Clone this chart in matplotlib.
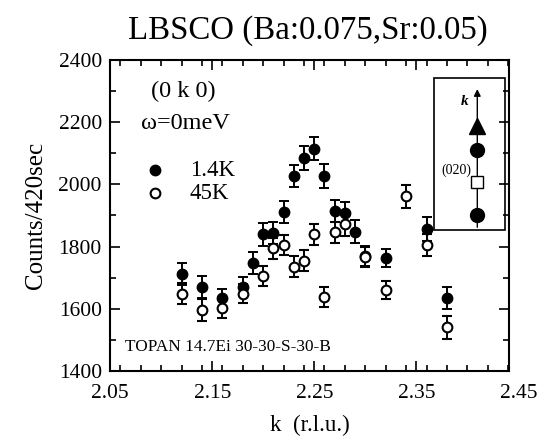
import matplotlib
matplotlib.use("Agg")
import matplotlib.pyplot as plt
from matplotlib.ticker import MultipleLocator, FixedLocator

plt.rcParams['font.family'] = ['Liberation Serif', 'DejaVu Serif']

# 1.4K data (filled)
k_low = [2.12, 2.14, 2.16, 2.18, 2.19, 2.20, 2.21, 2.22, 2.23, 2.24, 2.25,
         2.26, 2.27, 2.28, 2.29, 2.30, 2.32, 2.36, 2.38]
c_low = [1712, 1669, 1634, 1671, 1747, 1839, 1843, 1911, 2026, 2085, 2115,
         2026, 1914, 1908, 1848, 1771, 1763, 1857, 1634]
e_low = [34, 35, 30, 30, 36, 36, 36, 36, 36, 38, 38,
         38, 36, 36, 38, 32, 30, 38, 36]

# 45K data (open)
k_high = [2.12, 2.14, 2.16, 2.18, 2.20, 2.21, 2.22, 2.23, 2.24, 2.25,
          2.26, 2.27, 2.28, 2.30, 2.32, 2.34, 2.36, 2.38]
c_high = [1649, 1596, 1604, 1649, 1706, 1795, 1805, 1735, 1755, 1839,
          1637, 1846, 1871, 1765, 1660, 1961, 1805, 1540]
e_high = [34, 35, 34, 30, 32, 34, 32, 34, 34, 34,
          32, 34, 36, 32, 30, 38, 36, 36]

x_ticks = [2.05, 2.15, 2.25, 2.35]

fig = plt.figure(figsize=(5.4, 4.37), dpi=100)
ax = fig.add_axes([0.204, 0.151, 0.739, 0.712])

ax.errorbar(k_low, c_low, yerr=e_low, fmt='o', color='black', ms=7.5,
            capsize=3.5, elinewidth=1.4, capthick=1.4, zorder=3)
ax.errorbar(k_high, c_high, yerr=e_high, fmt='o', color='black', mfc='white',
            mew=1.5, ms=7, capsize=3.5, elinewidth=1.4, capthick=1.4, zorder=4)

ax.set_xlim(2.05, 2.441)
ax.set_ylim(1400, 2400)
ax.xaxis.set_major_locator(FixedLocator(x_ticks))
ax.xaxis.set_minor_locator(MultipleLocator(0.02))
ax.yaxis.set_major_locator(MultipleLocator(200))
ax.yaxis.set_minor_locator(MultipleLocator(100))
ax.set_xticklabels(['%.2f' % t for t in x_ticks])
ax.tick_params(which='both', direction='in', top=True, right=True,
               labelsize=15.5, width=1.2)
ax.tick_params(which='major', length=7, pad=6)
ax.tick_params(axis='x', which='major', pad=9)
ax.tick_params(which='minor', length=4)
# the last label sits just past the right edge of the frame
ax.annotate('2.45', xy=(2.45, 0), xycoords=ax.get_xaxis_transform(),
            xytext=(0, -9), textcoords='offset points',
            ha='center', va='top', fontsize=15.5, annotation_clip=False)
for s in ax.spines.values():
    s.set_linewidth(1.5)

ax.set_xlabel('k  (r.l.u.)', fontsize=16.5, labelpad=9)
ax.set_ylabel('Counts/420sec', fontsize=18, labelpad=8)
fig.suptitle('LBSCO (Ba:0.075,Sr:0.05)', fontsize=23.7, x=0.57, y=0.965)

# annotations
ax.text(0.183, 0.898, '(0 k 0)', transform=ax.transAxes, ha='center', va='center', fontsize=17.5)
ax.text(0.188, 0.797, 'ω=0meV', transform=ax.transAxes, ha='center', va='center', fontsize=17.5)
ax.plot([0.113], [0.646], 'o', color='black', ms=7.5, transform=ax.transAxes)
ax.plot([0.113], [0.572], 'o', color='black', mfc='white', mew=1.5, ms=7, transform=ax.transAxes)
ax.text(0.20, 0.646, '1.4K', transform=ax.transAxes, ha='left', va='center', fontsize=16.5)
ax.text(0.20, 0.572, '45K', transform=ax.transAxes, ha='left', va='center', fontsize=16.5)
ax.text(0.038, 0.077, 'TOPAN 14.7Ei 30-30-S-30-B', transform=ax.transAxes,
        ha='left', va='center', fontsize=12.4)

# inset schematic
bx0, bx1, by0, by1 = 0.812, 0.990, 0.453, 0.942
ax.add_patch(plt.Rectangle((bx0, by0), bx1 - bx0, by1 - by0, transform=ax.transAxes,
                           fill=False, lw=1.2, color='black', zorder=5))
lx = 0.920
ax.annotate('', xy=(lx, 0.915), xytext=(lx, by0), xycoords='axes fraction',
            arrowprops=dict(arrowstyle='-|>', lw=1.0, color='black', mutation_scale=10))
ax.plot([lx], [0.788], '^', color='black', ms=12, transform=ax.transAxes, zorder=6)
ax.plot([lx], [0.711], 'o', color='black', ms=10, transform=ax.transAxes, zorder=6)
ax.plot([lx], [0.608], 's', color='black', mfc='white', mew=1.0, ms=8, transform=ax.transAxes, zorder=6)
ax.plot([lx], [0.502], 'o', color='black', ms=10, transform=ax.transAxes, zorder=6)
ax.text(0.887, 0.865, 'k', transform=ax.transAxes, ha='center', va='center',
        fontsize=11, style='italic', weight='bold')
ax.text(0.905, 0.645, '(020)', transform=ax.transAxes, ha='right', va='center', fontsize=10)

fig.savefig('out.png', dpi=100)
